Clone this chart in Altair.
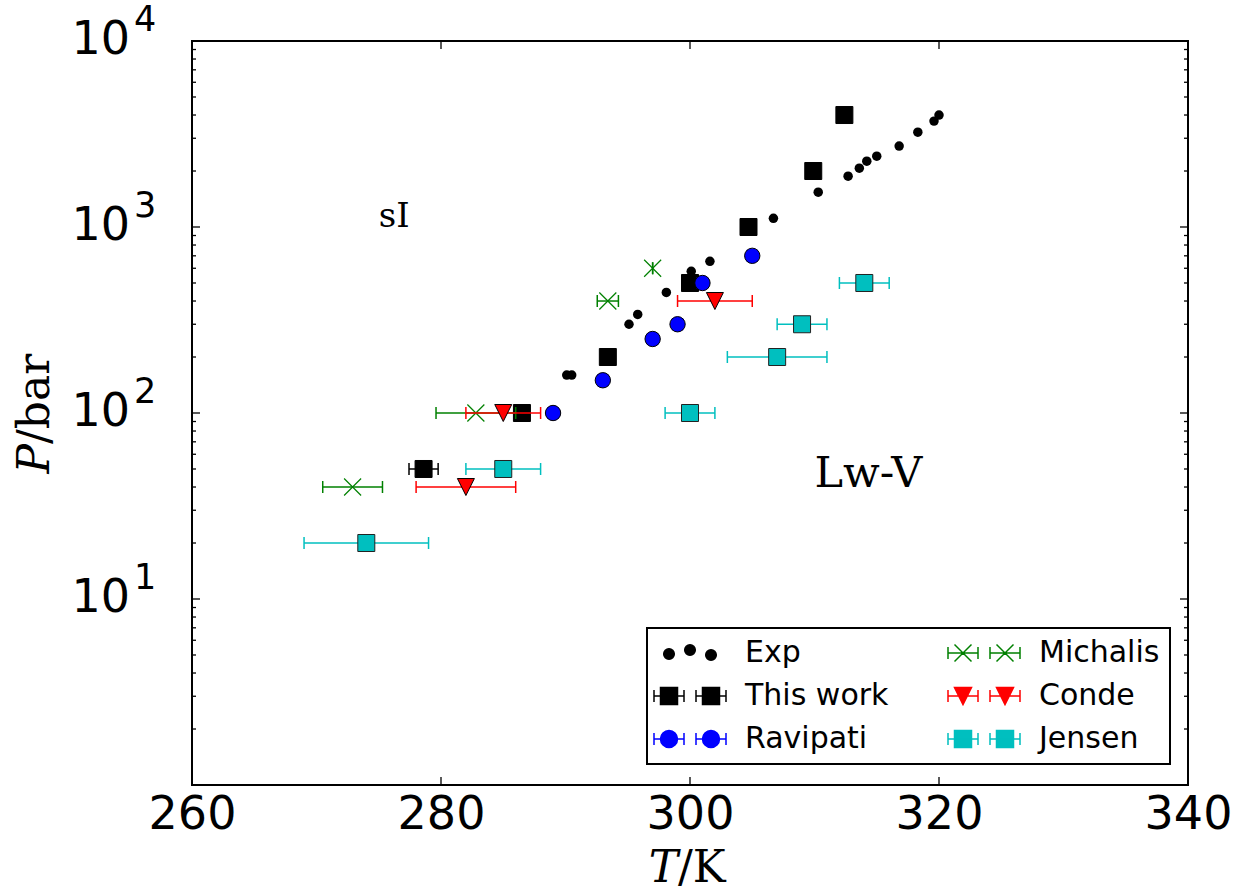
import altair as alt
import pandas as pd

# ---------------- data ----------------
exp_T = [290.1, 290.5, 295.1, 295.8, 298.1, 300.1, 301.6, 306.7, 310.3, 312.7,
         313.6, 314.2, 315.0, 316.8, 318.3, 319.6, 320.0]
exp_P = [160, 160, 300, 339, 445, 578, 654, 1114, 1538, 1876,
         2071, 2260, 2404, 2722, 3236, 3709, 3998]

tw_T = [278.6, 286.5, 293.4, 300.0, 304.7, 309.9, 312.4]
tw_P = [50, 100, 200, 500, 1000, 2000, 4000]
tw_err = [1.17, 0.4, 0.4, 0.4, 0.4, 0.4, 0.4]

rv_T = [289.0, 293.0, 297.0, 299.0, 301.0, 305.0]
rv_P = [100, 150, 250, 300, 500, 700]
rv_err = [0.4, 0.4, 0.4, 0.4, 0.4, 0.4]

mi_T = [272.9, 282.8, 293.4, 297.0]
mi_P = [40, 100, 400, 600]
mi_err = [2.4, 3.2, 0.85, 0.0]

co_T = [282.0, 285.0, 302.0]
co_P = [40, 100, 400]
co_err = [4.0, 3.0, 3.0]

je_T = [274.0, 285.0, 300.0, 307.0, 309.0, 314.0]
je_P = [20, 50, 100, 200, 300, 500]
je_err = [5.0, 3.0, 2.0, 4.0, 2.0, 2.0]

region_labels = ["sI", "Lw-V"]
region_T = [275.0, 310.0]
region_P = [1000, 40]

x_major = [260, 280, 300, 320, 340]
y_major = [1, 10, 100, 1000, 10000]
y_minor = [m * 10 ** d for d in range(4) for m in range(2, 10)]
y_label_vals = [10, 100, 1000, 10000]
y_label_base = ["10", "10", "10", "10"]
y_label_exp = ["1", "2", "3", "4"]

legend_order = ["Exp", "This work", "Ravipati", "Michalis", "Conde", "Jensen"]
x_title_parts = ["T", "/K"]
y_title_parts = ["P", "/bar"]

# ---------------- layout / style ----------------
W, H = 996, 744
BLACK, BLUE, GREEN, RED, CYAN = "black", "#0000FF", "#008000", "#FF0000", "#00BFBF"

xscale = alt.Scale(domain=[260, 340], nice=False, zero=False)
yscale = alt.Scale(type="log", domain=[1, 10000], nice=False)
x_axis = alt.Axis(values=x_major, labelFontSize=46, labelFont="DejaVu Sans",
                  labelColor="black", labelPadding=7, ticks=False, tickSize=0,
                  domain=False, grid=False, labelFlush=False, format="d")


def X(f):
    return alt.X(f"{f}:Q", scale=xscale, axis=x_axis, title=None)


def Y(f="P"):
    return alt.Y(f"{f}:Q", scale=yscale, axis=None)


def frame(T, P, err):
    return pd.DataFrame({"T": T, "P": P, "lo": [t - e for t, e in zip(T, err)],
                         "hi": [t + e for t, e in zip(T, err)]})


CAP = "M0,-1L0,1"
XMARK = "M-1,-1L1,1M-1,1L1,-1"
TRI_DOWN = "M-1,-1L1,-1L0,1Z"


def errorbars(df, color):
    bar = alt.Chart(df).mark_rule(color=color, strokeWidth=1.5).encode(
        x=X("lo"), x2="hi", y=Y())
    caps = [alt.Chart(df).mark_point(shape=CAP, size=144, filled=False, color=color,
                                      strokeWidth=1.5, opacity=1).encode(x=X(c), y=Y())
            for c in ("lo", "hi")]
    return [bar] + caps


layers = []

# Exp
exp_df = pd.DataFrame({"T": exp_T, "P": exp_P})
layers.append(alt.Chart(exp_df).mark_circle(size=90, color="black", opacity=1).encode(x=X("T"), y=Y()))

# This work
df = frame(tw_T, tw_P, tw_err)
layers += errorbars(df, BLACK)
layers.append(alt.Chart(df).mark_point(shape="square", size=289, filled=True, fill=BLACK,
                                       stroke=BLACK, strokeWidth=1, opacity=1).encode(x=X("T"), y=Y()))
# Ravipati
df = frame(rv_T, rv_P, rv_err)
layers += errorbars(df, BLUE)
layers.append(alt.Chart(df).mark_point(shape="circle", size=236, filled=True, fill=BLUE,
                                       stroke=BLACK, strokeWidth=1, opacity=1).encode(x=X("T"), y=Y()))
# Michalis
df = frame(mi_T, mi_P, mi_err)
layers += errorbars(df, GREEN)
layers.append(alt.Chart(df).mark_point(shape=XMARK, size=289, filled=False, color=GREEN,
                                       strokeWidth=1.2, opacity=1).encode(x=X("T"), y=Y()))
# Conde
df = frame(co_T, co_P, co_err)
layers += errorbars(df, RED)
layers.append(alt.Chart(df).mark_point(shape=TRI_DOWN, size=289, filled=True, fill=RED,
                                       stroke=BLACK, strokeWidth=1, opacity=1).encode(x=X("T"), y=Y()))
# Jensen
df = frame(je_T, je_P, je_err)
layers += errorbars(df, CYAN)
layers.append(alt.Chart(df).mark_point(shape="square", size=289, filled=True, fill=CYAN,
                                       stroke="#222222", strokeWidth=1, opacity=1).encode(x=X("T"), y=Y()))

# region labels
reg_df = pd.DataFrame({"T": region_T, "P": region_P, "label": region_labels,
                       "fs": [34, 43]})
layers.append(alt.Chart(reg_df).mark_text(align="left", baseline="alphabetic",
                                          font="DejaVu Serif", color="black").encode(
    x=X("T"), y=Y(), text="label:N", size=alt.Size("fs:Q", scale=None, legend=None)))

# ticks (inward, all four sides)
xt = pd.DataFrame({"v": x_major})
ytM = pd.DataFrame({"v": y_major})
ytm = pd.DataFrame({"v": y_minor})
layers.append(alt.Chart(xt).mark_rule(color="black", strokeWidth=1.3).encode(
    x=X("v"), y=alt.value(H - 8), y2=alt.value(H)))
layers.append(alt.Chart(xt).mark_rule(color="black", strokeWidth=1.3).encode(
    x=X("v"), y=alt.value(0), y2=alt.value(8)))
for d, ln in ((ytM, 8), (ytm, 4)):
    layers.append(alt.Chart(d).mark_rule(color="black", strokeWidth=1.3).encode(
        y=Y("v"), x=alt.value(0), x2=alt.value(ln)))
    layers.append(alt.Chart(d).mark_rule(color="black", strokeWidth=1.3).encode(
        y=Y("v"), x=alt.value(W - ln), x2=alt.value(W)))

# y tick labels 10^n
yl = pd.DataFrame({"P": y_label_vals, "b": y_label_base, "e": y_label_exp})
layers.append(alt.Chart(yl).mark_text(align="right", baseline="alphabetic", dy=13,
                                      fontSize=46, font="DejaVu Sans", color="black").encode(
    x=alt.value(-62), y=Y(), text="b:N"))
layers.append(alt.Chart(yl).mark_text(align="left", baseline="alphabetic", dy=-10,
                                      fontSize=35, font="DejaVu Sans", color="black").encode(
    x=alt.value(-58), y=Y(), text="e:N"))

# axis titles (math italic + roman)
xtit = pd.DataFrame({"t": x_title_parts})
layers.append(alt.Chart(xtit.iloc[[0]]).mark_text(align="right", baseline="alphabetic", fontSize=44,
                                                  font="DejaVu Serif", fontStyle="italic", color="black").encode(
    x=alt.value(486), y=alt.value(841), text="t:N"))
layers.append(alt.Chart(xtit.iloc[[1]]).mark_text(align="left", baseline="alphabetic", fontSize=44,
                                                  font="DejaVu Serif", color="black").encode(
    x=alt.value(486), y=alt.value(841), text="t:N"))
ytit = pd.DataFrame({"t": y_title_parts})
layers.append(alt.Chart(ytit.iloc[[0]]).mark_text(align="right", baseline="alphabetic", angle=270, fontSize=44,
                                                  font="DejaVu Serif", fontStyle="italic", color="black").encode(
    x=alt.value(-143), y=alt.value(403), text="t:N"))
layers.append(alt.Chart(ytit.iloc[[1]]).mark_text(align="left", baseline="alphabetic", angle=270, fontSize=44,
                                                  font="DejaVu Serif", color="black").encode(
    x=alt.value(-143), y=alt.value(403), text="t:N"))

# ---------------- legend (custom symbol paths: two markers with error bars) ----------------
C1, C2 = -3, 39


def eb(cx):
    return f"M{cx-15},0L{cx+15},0M{cx-15},-6L{cx-15},6M{cx+15},-6L{cx+15},6"


def sq(cx, h=8.5):
    return f"M{cx-h},{-h}L{cx+h},{-h}L{cx+h},{h}L{cx-h},{h}Z"


def circ(cx, r, cy=0):
    return f"M{cx-r},{cy}A{r},{r} 0 1,0 {cx+r},{cy}A{r},{r} 0 1,0 {cx-r},{cy}Z"


def tri(cx, h=8.5):
    return f"M{cx-h},{-h}L{cx+h},{-h}L{cx},{h}Z"


def xm(cx, h=8.5):
    return f"M{cx-h},{-h}L{cx+h},{h}M{cx-h},{h}L{cx+h},{-h}"


legend_paths = {
    "Exp": circ(C1, 5.3, 1) + circ(18, 5.3, -3) + circ(C2, 5.3, 2),
    "This work": eb(C1) + sq(C1) + eb(C2) + sq(C2),
    "Ravipati": eb(C1) + circ(C1, 8.5) + eb(C2) + circ(C2, 8.5),
    "Michalis": eb(C1) + xm(C1) + eb(C2) + xm(C2),
    "Conde": eb(C1) + tri(C1) + eb(C2) + tri(C2),
    "Jensen": eb(C1) + sq(C1) + eb(C2) + sq(C2),
}
legend_fill = {"Exp": BLACK, "This work": BLACK, "Ravipati": BLUE, "Michalis": "transparent",
               "Conde": RED, "Jensen": CYAN}
legend_stroke = {"Exp": BLACK, "This work": BLACK, "Ravipati": BLUE, "Michalis": GREEN,
                 "Conde": RED, "Jensen": CYAN}

leg = alt.Legend(title=None, orient="none", legendX=455, legendY=587, columns=2,
                 columnPadding=56, rowPadding=13, padding=10, labelOffset=58,
                 labelFont="DejaVu Sans", labelFontSize=30, labelColor="black", labelLimit=400,
                 symbolSize=4, symbolStrokeWidth=1.5, symbolOpacity=1,
                 strokeColor="black", fillColor="white", cornerRadius=0)
leg_df = pd.DataFrame({"series": legend_order})
layers.append(alt.Chart(leg_df).mark_point(filled=True, size=4, opacity=0, strokeWidth=1.5).encode(
    shape=alt.Shape("series:N", scale=alt.Scale(domain=legend_order,
                                                range=[legend_paths[s] for s in legend_order]), legend=leg),
    fill=alt.Fill("series:N", scale=alt.Scale(domain=legend_order,
                                              range=[legend_fill[s] for s in legend_order]), legend=leg),
    stroke=alt.Stroke("series:N", scale=alt.Scale(domain=legend_order,
                                                  range=[legend_stroke[s] for s in legend_order]), legend=leg),
))

chart = alt.layer(*layers).properties(
    width=W, height=H,
    autosize=alt.AutoSizeParams(type="none"),
    padding={"left": 192, "top": 41, "right": 1236 - 192 - W, "bottom": 894 - 41 - H},
    background="white",
).configure_view(stroke="black", strokeWidth=2).configure_legend(strokeWidth=2)

chart.save("out.html", embed_options={"renderer": "svg", "actions": False})
